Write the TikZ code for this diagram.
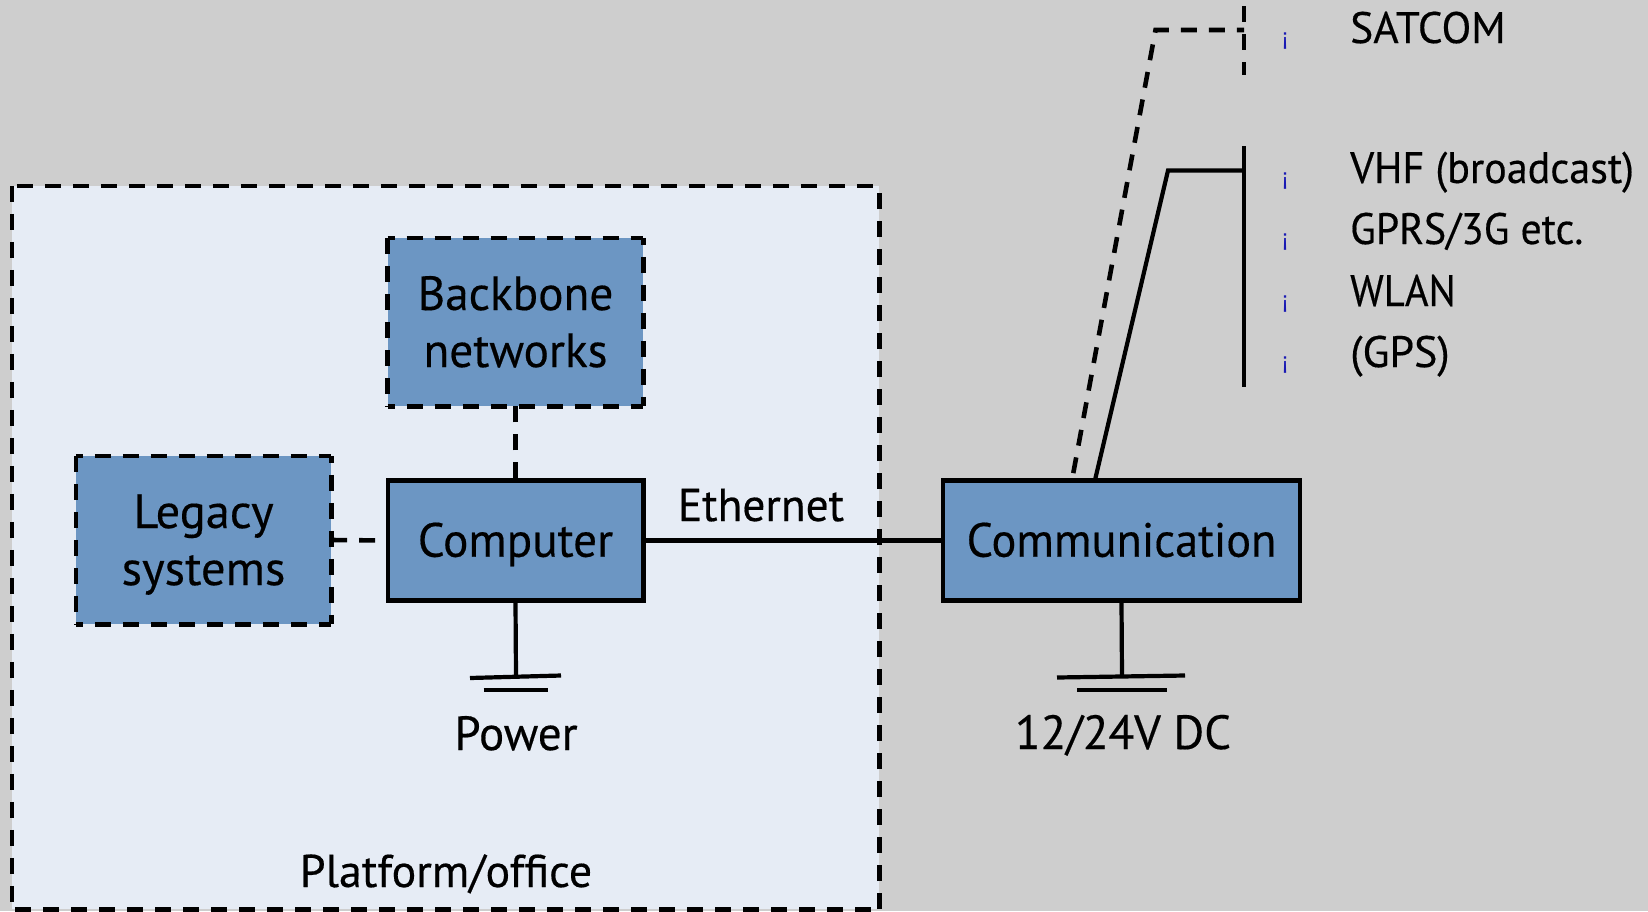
\documentclass[tikz,border=0pt]{standalone}
\usepackage{fontspec}
\setmainfont{PT Sans}[FakeBold=0.35]
\newfontfamily\markfont{Liberation Sans}
\newcommand\fsc[2]{\addfontfeatures{FakeStretch=#1}\fontsize{#2}{57}\selectfont}
\newcommand\firstline{\rule{0pt}{45pt}}
\newcommand\lastline{\rule[-12pt]{0pt}{12pt}}
\definecolor{bgc}{HTML}{CECECE}
\definecolor{platc}{HTML}{E6ECF5}
\definecolor{boxc}{HTML}{6C96C3}
\definecolor{markc}{HTML}{1A1AB4}
\tikzset{
 lab/.style={inner sep=0pt, text=black},
 solidbox/.style={rectangle, draw=black, fill=boxc, line width=4.5pt, inner sep=0pt, align=center, lab},
 dashbox/.style={rectangle, fill=boxc, inner sep=0pt, align=center, lab},
 oneline/.style={text height=39.5pt, text depth=7.1pt},
 conn/.style={draw=black, line width=4.2pt},
 dconn/.style={draw=black, line width=4.6pt, dash pattern=on 16pt off 12pt},
 marker/.style={font=\markfont\fontsize{24}{24}\selectfont, text=markc, inner sep=0pt},
}
\begin{document}
\begin{tikzpicture}[x=1pt,y=-1pt]
\useasboundingbox (0,0) rectangle (1648,911);
\fill[bgc] (0,0) rectangle (1648,911);
\node[fill=platc, rectangle, inner sep=0pt, minimum width=867pt, minimum height=723pt] (plat) at (445.5,547.5) {};
\draw[dconn] (plat.north west) -- (plat.south west);
\draw[dconn, dash phase=23pt] (plat.north west) -- (plat.north east);
\draw[dconn] (plat.south east) -- (plat.north east);
\draw[dconn, dash phase=20pt] (plat.south east) -- (plat.south west);
\node[lab, anchor=base, font=\fsc{1.0}{46}] (platlab) at (446,887) {Platform/office};
\node[dashbox, minimum width=255.5pt, minimum height=168pt, font=\fsc{0.985}{48}] (back) at (515.5,322) {\firstline Backbone\\networks\lastline};
\draw[dconn, dash phase=9pt] (back.north west) -- (back.north east);
\draw[dconn] (back.north west) -- (back.south west);
\draw[dconn, dash phase=9pt] (back.north east) -- (back.south east);
\draw[dconn, dash phase=9pt] (back.south west) -- (back.south east);
\node[dashbox, minimum width=255pt, minimum height=168pt, font=\fsc{1.01}{48}] (leg) at (203.5,540) {\firstline Legacy\\systems\lastline};
\draw[dconn, dash phase=9pt] (leg.north west) -- (leg.north east);
\draw[dconn] (leg.north west) -- (leg.south west);
\draw[dconn, dash phase=9pt] (leg.north east) -- (leg.south east);
\draw[dconn, dash phase=9pt] (leg.south west) -- (leg.south east);
\node[solidbox, oneline, minimum width=255.5pt, minimum height=120pt, font=\fsc{0.983}{48}] (comp) at (515.5,540.5) {Computer};
\node[solidbox, oneline, minimum width=357pt, minimum height=120pt, font=\fsc{0.965}{48}] (comm) at (1121.5,540.5) {Communication};
\node[lab, anchor=base, font=\fsc{0.986}{46}] (eth) at (761,521) {Ethernet};
\node[lab, anchor=base, font=\fsc{0.98}{48}] (pow) at (516,750) {Power};
\node[lab, anchor=base, font=\fsc{0.98}{48}] (dc) at (1123,749) {12/24V DC};
% antennas
\coordinate (dfoot) at (1072,480);
\coordinate (dknee) at (1155.5,30);
\coordinate (dj) at (1244,30);
\coordinate (dtop) at (1244,6);
\coordinate (dbot) at (1244,75);
\coordinate (sfoot) at (1095,480);
\coordinate (sknee) at (1168,170.5);
\coordinate (sj) at (1244,170.5);
\coordinate (stop) at (1244,146);
\coordinate (sbot) at (1244,387);
\draw[dconn, dash phase=21pt] (dfoot) -- (dknee) -- (dj);
\draw[dconn] (dtop) -- (dbot);
\draw[conn] (sfoot) -- (sknee) -- (sj);
\draw[conn] (stop) -- (sbot);
% connectors
\draw[conn] (comp.east) -- (comm.west);
\draw[dconn] (comp.north) -- (back.south);
\draw[dconn] (leg.east) -- (comp.west);
% grounds
\coordinate (g1) at (516,676.5);
\coordinate (g1a) at (470,678);
\coordinate (g1b) at (561,675.5);
\coordinate (g1c) at (483.5,690);
\coordinate (g1d) at (548,690);
\coordinate (g2) at (1122,676.5);
\coordinate (g2a) at (1057,677.5);
\coordinate (g2b) at (1185,675.5);
\coordinate (g2c) at (1077,690);
\coordinate (g2d) at (1167,690);
\draw[conn] (comp.south) -- (g1);
\draw[conn] (comm.south) -- (g2);
\draw[conn] (g1a) -- (g1b);
\draw[conn] (g1c) -- (g1d);
\draw[conn] (g2a) -- (g2b);
\draw[conn] (g2c) -- (g2d);
% list
\node[lab, anchor=base west, font=\fsc{0.988}{44}] (t1) at (1350,43) {SATCOM};
\node[lab, anchor=base west, font=\fsc{0.957}{44}] (t2) at (1350,183) {VHF (broadcast)};
\node[lab, anchor=base west, font=\fsc{0.95}{44}] (t3) at (1350,244) {GPRS/3G etc.};
\node[lab, anchor=base west, font=\fsc{0.92}{44}] (t4) at (1350,306) {WLAN};
\node[lab, anchor=base west, font=\fsc{1.0}{44}] (t5) at (1350,367) {(GPS)};
\node[marker] (m1) at (1285,41) {¡};
\node[marker] (m2) at (1285,181) {¡};
\node[marker] (m3) at (1285,242) {¡};
\node[marker] (m4) at (1285,304) {¡};
\node[marker] (m5) at (1285,365) {¡};
\end{tikzpicture}
\end{document}
